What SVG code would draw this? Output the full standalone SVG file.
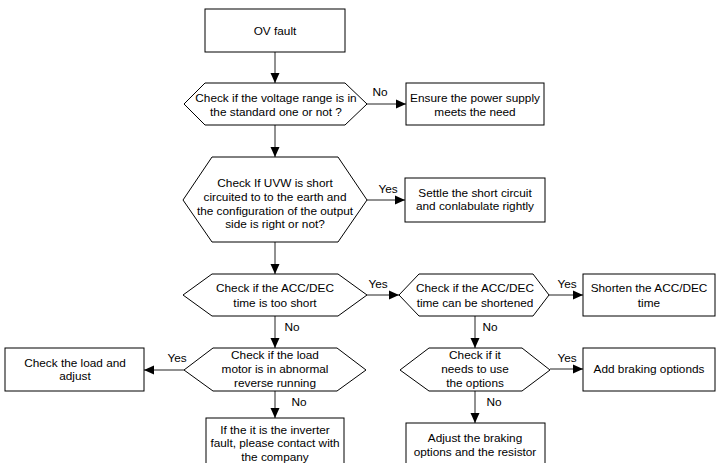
<svg xmlns="http://www.w3.org/2000/svg" width="716" height="463" viewBox="0 0 716 463">
<defs>
<marker id="ah" markerWidth="10" markerHeight="10" refX="10" refY="5" orient="auto" markerUnits="userSpaceOnUse">
<path d="M0,0.5 L10,5 L0,9.5 Z" fill="#000"/>
</marker>
<style>
.s{fill:#fff;stroke:#000;stroke-width:1}
.c{fill:none;stroke:#222;stroke-width:1;marker-end:url(#ah)}
text{font-family:"Liberation Sans",Arial,sans-serif;font-size:11.8px;fill:#000}
.m{text-anchor:middle}
</style>
</defs>
<rect width="716" height="463" fill="#fff"/>
<g id="connectors">
<line class="c" x1="275" y1="52" x2="275" y2="83"/>
<line class="c" x1="367" y1="104" x2="406" y2="104"/>
<line class="c" x1="275" y1="125" x2="275" y2="157"/>
<line class="c" x1="367" y1="200" x2="405" y2="200"/>
<line class="c" x1="275" y1="242" x2="275" y2="274"/>
<line class="c" x1="367" y1="295" x2="399" y2="295"/>
<line class="c" x1="549" y1="295" x2="583" y2="295"/>
<line class="c" x1="275" y1="316" x2="275" y2="348"/>
<line class="c" x1="475" y1="316" x2="475" y2="348"/>
<line class="c" x1="184" y1="370" x2="144" y2="370"/>
<line class="c" x1="550" y1="369" x2="583" y2="369"/>
<line class="c" x1="275" y1="391" x2="275" y2="418"/>
<line class="c" x1="475" y1="391" x2="475" y2="423"/>
<text x="380" y="96" class="m">No</text>
<text x="388" y="193" class="m">Yes</text>
<text x="378" y="288" class="m">Yes</text>
<text x="567" y="288" class="m">Yes</text>
<text x="292" y="331" class="m">No</text>
<text x="490" y="331" class="m">No</text>
<text x="177" y="362" class="m">Yes</text>
<text x="567" y="362" class="m">Yes</text>
<text x="299" y="406" class="m">No</text>
<text x="494" y="406" class="m">No</text>
</g>
<g id="ov-fault">
<rect class="s" x="205" y="9" width="140" height="43"/>
<text x="275" y="35" class="m">OV fault</text>
</g>
<g id="check-voltage">
<polygon class="s" points="184,104 205,83 345,83 367,104 345,125 205,125"/>
<text x="276" y="102" class="m">Check if the voltage range is in</text>
<text x="276" y="116" class="m">the standard one or not ?</text>
</g>
<g id="ensure-power">
<rect class="s" x="406" y="83" width="138" height="42"/>
<text x="475" y="102" class="m">Ensure the power supply</text>
<text x="475" y="116" class="m">meets the need</text>
</g>
<g id="check-uvw">
<polygon class="s" points="183,200 212,157 338,157 367,200 338,242 212,242"/>
<text x="275" y="187" class="m">Check If UVW is short</text>
<text x="275" y="201" class="m">circuited to to the earth and</text>
<text x="275" y="215" class="m">the configuration of the output</text>
<text x="275" y="228" class="m">side is right or not?</text>
</g>
<g id="settle-short">
<rect class="s" x="405" y="178" width="140" height="44"/>
<text x="475" y="197" class="m">Settle the short circuit</text>
<text x="475" y="210" class="m">and conlabulate rightly</text>
</g>
<g id="check-accdec">
<polygon class="s" points="183,295 212,274 338,274 367,295 338,316 212,316"/>
<text x="275" y="292" class="m">Check if the ACC/DEC</text>
<text x="275" y="307" class="m">time is too short</text>
</g>
<g id="check-shorten">
<polygon class="s" points="399,295 419,274 533,274 549,295 533,316 419,316"/>
<text x="475" y="292" class="m">Check if the ACC/DEC</text>
<text x="475" y="307" class="m">time can be shortened</text>
</g>
<g id="shorten-accdec">
<rect class="s" x="583" y="274" width="132" height="42"/>
<text x="649" y="292" class="m">Shorten the ACC/DEC</text>
<text x="649" y="307" class="m">time</text>
</g>
<g id="check-load">
<rect class="s" x="5" y="348" width="139" height="43"/>
<text x="75" y="367" class="m">Check the load and</text>
<text x="75" y="380" class="m">adjust</text>
</g>
<g id="check-reverse">
<polygon class="s" points="184,370 213,348 337,348 366,370 337,391 213,391"/>
<text x="275" y="359" class="m">Check if the load</text>
<text x="275" y="373" class="m">motor is in abnormal</text>
<text x="275" y="387" class="m">reverse running</text>
</g>
<g id="check-options">
<polygon class="s" points="400,370 429,348 522,348 550,370 522,391 429,391"/>
<text x="475" y="359" class="m">Check if it</text>
<text x="475" y="373" class="m">needs to use</text>
<text x="475" y="387" class="m">the options</text>
</g>
<g id="add-braking">
<rect class="s" x="583" y="348" width="132" height="43"/>
<text x="649" y="373" class="m">Add braking optionds</text>
</g>
<g id="inverter-fault">
<rect class="s" x="206" y="418" width="138" height="52"/>
<text x="275" y="434" class="m">If the it is the inverter</text>
<text x="275" y="447" class="m">fault, please contact with</text>
<text x="275" y="461" class="m">the company</text>
</g>
<g id="adjust-braking">
<rect class="s" x="406" y="423" width="139" height="47"/>
<text x="475" y="442" class="m">Adjust the braking</text>
<text x="475" y="456" class="m">options and the resistor</text>
</g>
</svg>
